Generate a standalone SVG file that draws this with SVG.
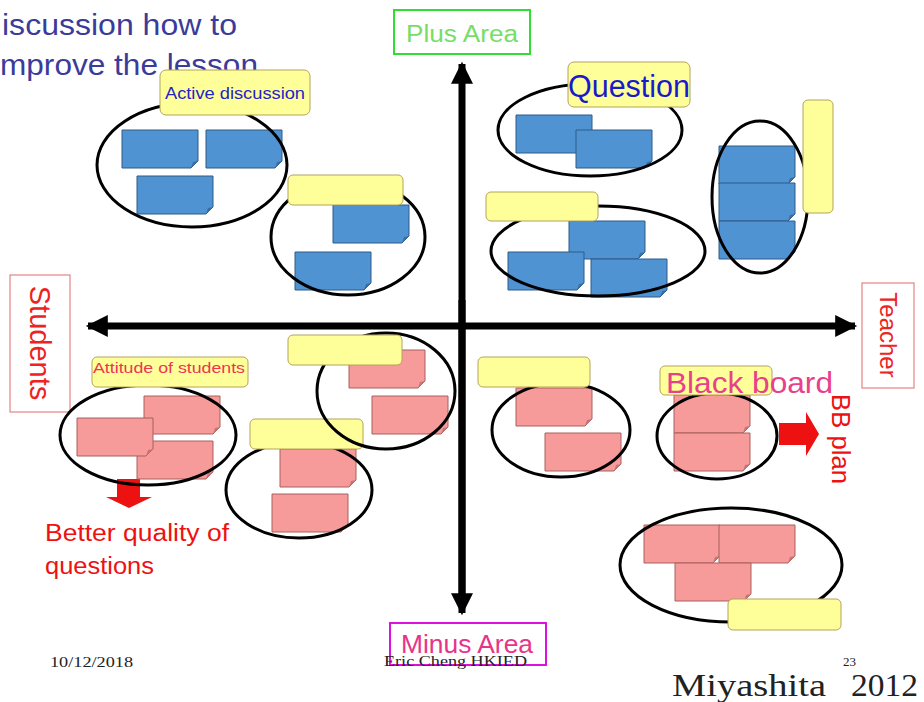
<svg xmlns="http://www.w3.org/2000/svg" xmlns:xlink="http://www.w3.org/1999/xlink" width="924" height="702" viewBox="0 0 924 702">
  <defs>
    <style>
      .sans { font-family: "Liberation Sans", Arial, sans-serif; }
      .serif { font-family: "Liberation Serif", "Times New Roman", serif; }
      .ring { fill: none; stroke: #000; stroke-width: 3; }
      .tag { fill: #ffff99; stroke: #b4a45c; stroke-width: 1; }
      .axis { stroke: #000; stroke-width: 7; fill: none; }
      .red { fill: #ee1111; }
    </style>
    <!-- sticky cards with a folded bottom-right corner -->
    <g id="bcard">
      <path d="M0,0 H76 V31 L69,38 H0 Z" fill="#5093d3" stroke="#2e5a86" stroke-width="1"/>
      <path d="M69,38 L71,32 L76,31 Z" fill="#3a6fa3"/>
    </g>
    <g id="pcard">
      <path d="M0,0 H76 V31 L69,38 H0 Z" fill="#f69a9a" stroke="#a8605e" stroke-width="1"/>
      <path d="M69,38 L71,32 L76,31 Z" fill="#c97474"/>
    </g>
    <marker id="head" viewBox="0 0 10 10" refX="9" refY="5" markerWidth="24" markerHeight="22" markerUnits="userSpaceOnUse" orient="auto">
      <path d="M0,0 L10,5 L0,10 Z" fill="#000"/>
    </marker>
  </defs>

  <rect width="924" height="702" fill="#ffffff"/>

  <!-- title -->
  <g id="title" class="sans" fill="#3b3b9a" font-size="29">
    <text x="2" y="35" textLength="235" lengthAdjust="spacingAndGlyphs">iscussion how to</text>
    <text x="0" y="75" textLength="258" lengthAdjust="spacingAndGlyphs">mprove the lesson</text>
  </g>

  <!-- axes and arrows -->
  <g id="connectors">
    <line class="axis" x1="462" y1="600" x2="462" y2="64" marker-end="url(#head)"/>
    <line class="axis" x1="462" y1="300" x2="462" y2="613" marker-end="url(#head)"/>
    <line class="axis" x1="462" y1="326" x2="88" y2="326" marker-end="url(#head)"/>
    <line class="axis" x1="462" y1="326" x2="855" y2="326" marker-end="url(#head)"/>
    <path class="red" d="M117,479 H140 V497 H152 L129,508 L106,497 H117 Z"/>
    <path class="red" d="M779,423 H806 V412 L819,434 L806,456 V445 H779 Z"/>
  </g>

  <!-- axis labels -->
  <g id="plus-area">
    <rect x="394" y="10" width="136" height="44" fill="#fff" stroke="#33dd33" stroke-width="2"/>
    <text class="sans" x="462" y="42" font-size="23" fill="#77dd66" text-anchor="middle" textLength="112" lengthAdjust="spacingAndGlyphs">Plus Area</text>
  </g>
  <g id="minus-area">
    <rect x="390" y="623" width="156" height="42" fill="#fff" stroke="#dd11dd" stroke-width="2"/>
    <text class="sans" x="467" y="653" font-size="26" fill="#e8338a" text-anchor="middle" textLength="132" lengthAdjust="spacingAndGlyphs">Minus Area</text>
  </g>
  <g id="students">
    <rect x="10" y="275" width="60" height="137" fill="#fff" stroke="#e06a6a" stroke-width="1"/>
    <text class="sans" transform="translate(40,343) rotate(90)" y="10" font-size="29" fill="#ee2222" text-anchor="middle">Students</text>
  </g>
  <g id="teacher">
    <rect x="862" y="283" width="52" height="105" fill="#fff" stroke="#e06a6a" stroke-width="1"/>
    <text class="sans" transform="translate(888,335) rotate(90)" y="8.5" font-size="24" fill="#ee2222" text-anchor="middle">Teacher</text>
  </g>

  <!-- upper-left: active discussion -->
  <g id="active-discussion">
    <use xlink:href="#bcard" x="122" y="130"/>
    <use xlink:href="#bcard" x="206" y="130"/>
    <use xlink:href="#bcard" x="137" y="176"/>
    <ellipse class="ring" cx="192" cy="165" rx="95" ry="62"/>
    <rect class="tag" x="160" y="70" width="150" height="45" rx="6"/>
    <text class="sans" x="235" y="99" font-size="16" fill="#2323c8" text-anchor="middle" textLength="140" lengthAdjust="spacingAndGlyphs">Active discussion</text>
  </g>

  <g id="group-ul2">
    <use xlink:href="#bcard" x="333" y="205"/>
    <use xlink:href="#bcard" x="295" y="252"/>
    <ellipse class="ring" cx="348" cy="237" rx="77" ry="58"/>
    <rect class="tag" x="288" y="175" width="115" height="30" rx="5"/>
  </g>

  <!-- upper-right -->
  <g id="question">
    <use xlink:href="#bcard" x="516" y="115"/>
    <use xlink:href="#bcard" x="576" y="130"/>
    <ellipse class="ring" cx="590" cy="130" rx="92" ry="46"/>
    <rect class="tag" x="568" y="62" width="122" height="45" rx="6"/>
    <text class="sans" x="629" y="97" font-size="31" fill="#1a1acc" text-anchor="middle" textLength="122" lengthAdjust="spacingAndGlyphs">Question</text>
  </g>

  <g id="group-ur2">
    <use xlink:href="#bcard" x="569" y="221"/>
    <use xlink:href="#bcard" x="508" y="252"/>
    <use xlink:href="#bcard" x="591" y="259"/>
    <ellipse class="ring" cx="598" cy="251" rx="107" ry="45"/>
    <rect class="tag" x="486" y="192" width="112" height="29" rx="5"/>
  </g>

  <g id="group-ur3">
    <use xlink:href="#bcard" x="719" y="146"/>
    <use xlink:href="#bcard" x="719" y="183"/>
    <use xlink:href="#bcard" x="719" y="221"/>
    <ellipse class="ring" cx="760" cy="197" rx="48" ry="76"/>
    <rect class="tag" x="803" y="100" width="30" height="113" rx="5"/>
  </g>

  <!-- lower-left -->
  <g id="attitude">
    <use xlink:href="#pcard" x="144" y="396"/>
    <use xlink:href="#pcard" x="137" y="441"/>
    <use xlink:href="#pcard" x="77" y="418"/>
    <ellipse class="ring" cx="148" cy="435" rx="88" ry="50"/>
    <rect class="tag" x="92" y="357" width="156" height="30" rx="5"/>
    <text class="sans" x="93" y="373" font-size="15" fill="#ee3355" textLength="152" lengthAdjust="spacingAndGlyphs">Attitude  of students</text>
  </g>

  <g id="better-questions" class="sans" fill="#ee1111" font-size="23">
    <text x="45" y="541" textLength="184" lengthAdjust="spacingAndGlyphs">Better quality of</text>
    <text x="45" y="574" textLength="109" lengthAdjust="spacingAndGlyphs">questions</text>
  </g>

  <g id="group-ll2">
    <use xlink:href="#pcard" x="280" y="449"/>
    <use xlink:href="#pcard" x="272" y="494"/>
    <ellipse class="ring" cx="299" cy="490" rx="73" ry="48"/>
    <rect class="tag" x="250" y="419" width="113" height="30" rx="5"/>
  </g>

  <g id="group-ll3">
    <use xlink:href="#pcard" x="349" y="350"/>
    <use xlink:href="#pcard" x="372" y="396"/>
    <ellipse class="ring" cx="386" cy="391" rx="69" ry="58"/>
    <rect class="tag" x="288" y="335" width="114" height="30" rx="5"/>
  </g>

  <!-- lower-right -->
  <g id="group-lr1">
    <use xlink:href="#pcard" x="516" y="388"/>
    <use xlink:href="#pcard" x="545" y="433"/>
    <ellipse class="ring" cx="561" cy="430" rx="69" ry="47"/>
    <rect class="tag" x="478" y="357" width="112" height="30" rx="5"/>
  </g>

  <g id="black-board">
    <use xlink:href="#pcard" x="674" y="395"/>
    <use xlink:href="#pcard" x="674" y="433"/>
    <ellipse class="ring" cx="717" cy="436" rx="60" ry="43"/>
    <rect class="tag" x="660" y="366" width="112" height="29" rx="5"/>
    <text class="sans" x="666" y="393" font-size="30" fill="#e8408a" textLength="167" lengthAdjust="spacingAndGlyphs">Black board</text>
  </g>

  <g id="bb-plan">
    <text class="sans" transform="translate(841,439) rotate(90)" y="9" font-size="25" fill="#ee1111" text-anchor="middle" textLength="90" lengthAdjust="spacingAndGlyphs">BB plan</text>
  </g>

  <g id="group-lr3">
    <use xlink:href="#pcard" x="644" y="525"/>
    <use xlink:href="#pcard" x="719" y="525"/>
    <use xlink:href="#pcard" x="675" y="563"/>
    <ellipse class="ring" cx="731" cy="565" rx="111" ry="57"/>
    <rect class="tag" x="728" y="599" width="113" height="31" rx="5"/>
  </g>

  <!-- footer -->
  <g id="footer" class="serif" fill="#222">
    <text x="50" y="667" font-size="15" textLength="83" lengthAdjust="spacingAndGlyphs">10/12/2018</text>
    <text x="384" y="666" font-size="15" textLength="143" lengthAdjust="spacingAndGlyphs">Eric Cheng HKIED</text>
    <text x="843" y="666" font-size="13">23</text>
    <text x="672" y="696" font-size="32" textLength="154" lengthAdjust="spacingAndGlyphs">Miyashita</text>
    <text x="851" y="696" font-size="32" textLength="67" lengthAdjust="spacingAndGlyphs">2012</text>
  </g>
</svg>
